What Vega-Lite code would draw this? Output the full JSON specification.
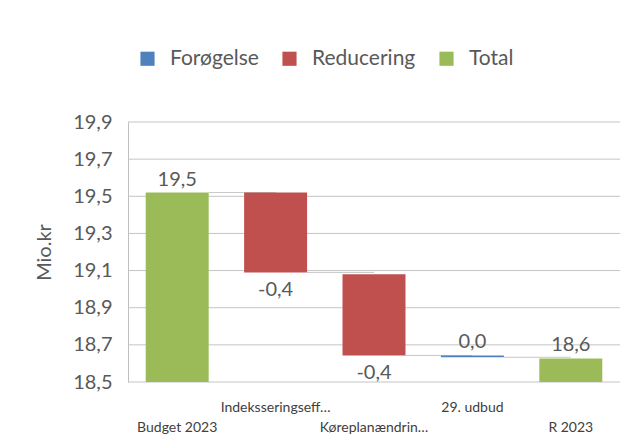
{
  "$schema": "https://vega.github.io/schema/vega-lite/v6.json",
  "width": 492,
  "height": 260,
  "autosize": {"type": "none"},
  "padding": {"left": 128, "top": 122, "right": 12, "bottom": 61},
  "background": "white",
  "config": {
    "font": "Lato",
    "view": {"stroke": null}
  },
  "datasets": {
    "gridValues": [
      {"g": 18.5}, {"g": 18.7}, {"g": 18.9}, {"g": 19.1},
      {"g": 19.3}, {"g": 19.5}, {"g": 19.7}, {"g": 19.9}
    ]
  },
  "data": {
    "values": [
      {"cat": "Budget 2023", "type": "Total", "start": 18.5, "end": 19.52, "value": 19.52},
      {"cat": "Indeksseringseff…", "type": "Reducering", "start": 19.52, "end": 19.09, "value": -0.43},
      {"cat": "Køreplanændrin…", "type": "Reducering", "start": 19.08, "end": 18.643, "value": -0.44},
      {"cat": "29. udbud", "type": "Forøgelse", "start": 18.643, "end": 18.633, "value": 0.0},
      {"cat": "R 2023", "type": "Total", "start": 18.5, "end": 18.627, "value": 18.63}
    ]
  },
  "resolve": {"axis": {"y": "independent", "x": "independent"}},
  "layer": [
    {
      "data": {"name": "gridValues"},
      "mark": {"type": "rule", "color": "#c4c4c4", "strokeWidth": 1},
      "encoding": {
        "y": {"field": "g", "type": "quantitative", "axis": null}
      }
    },
    {
      "transform": [
        {"window": [{"op": "lead", "field": "cat", "as": "nextCat"}]},
        {"filter": "datum.nextCat != null"}
      ],
      "mark": {"type": "rule", "color": "#c8c8c8", "strokeWidth": 1},
      "encoding": {
        "x": {"field": "cat", "type": "nominal", "sort": null, "bandPosition": 1, "axis": null},
        "x2": {"field": "nextCat"},
        "y": {"field": "end", "type": "quantitative", "axis": null}
      }
    },
    {
      "mark": {"type": "bar"},
      "encoding": {
        "x": {
          "field": "cat", "type": "nominal", "sort": null,
          "scale": {"paddingInner": 0.36, "paddingOuter": 0.18},
          "axis": {
            "title": null,
            "domain": false,
            "ticks": false,
            "grid": false,
            "labelAngle": 0,
            "labelAlign": "center",
            "labelFontSize": 14,
            "labelColor": "#404040",
            "labelPadding": 18,
            "labelBaseline": "top",
            "labelLineHeight": 20,
            "labelOverlap": false,
            "labelExpr": "indexof(['Indeksseringseff…', '29. udbud'], datum.label) >= 0 ? [datum.label] : ['', datum.label]"
          }
        },
        "y": {
          "field": "start", "type": "quantitative",
          "scale": {"domain": [18.5, 19.9], "zero": false, "nice": false},
          "axis": {
            "title": "Mio.kr",
            "titleFontSize": 20,
            "titleFontWeight": "normal",
            "titleColor": "#595959",
            "titlePadding": 18,
            "values": [18.5, 18.7, 18.9, 19.1, 19.3, 19.5, 19.7, 19.9],
            "labelExpr": "replace(format(datum.value, '.1f'), '.', ',')",
            "labelOverlap": false,
            "labelFontSize": 20,
            "labelColor": "#595959",
            "labelPadding": 16,
            "ticks": false,
            "grid": false,
            "domainColor": "#bfbfbf"
          }
        },
        "y2": {"field": "end"},
        "color": {
          "field": "type", "type": "nominal",
          "scale": {"domain": ["Forøgelse", "Reducering", "Total"], "range": ["#4f81bd", "#c0504d", "#9bbb59"]},
          "legend": {
            "title": null,
            "orient": "none",
            "direction": "horizontal",
            "legendX": 9,
            "legendY": -74,
            "symbolType": "square",
            "symbolSize": 200,
            "symbolStrokeWidth": 0,
            "labelFontSize": 21,
            "labelColor": "#595959",
            "labelOffset": 12,
            "columnPadding": 20
          }
        }
      }
    },
    {
      "transform": [
        {"filter": "datum.type != 'Reducering'"},
        {"calculate": "replace(replace(format(datum.value, '.1f'), '.', ','), '\u2212', '-')", "as": "lbl"},
        {"calculate": "max(datum.start, datum.end)", "as": "top"}
      ],
      "mark": {"type": "text", "fontSize": 20, "color": "#595959", "baseline": "alphabetic", "dy": -7},
      "encoding": {
        "x": {"field": "cat", "type": "nominal", "sort": null, "axis": null},
        "y": {"field": "top", "type": "quantitative", "axis": null},
        "text": {"field": "lbl"}
      }
    },
    {
      "transform": [
        {"filter": "datum.type == 'Reducering'"},
        {"calculate": "replace(replace(format(datum.value, '.1f'), '.', ','), '\u2212', '-')", "as": "lbl"}
      ],
      "mark": {"type": "text", "fontSize": 20, "color": "#595959", "baseline": "alphabetic", "dy": 24},
      "encoding": {
        "x": {"field": "cat", "type": "nominal", "sort": null, "axis": null},
        "y": {"field": "end", "type": "quantitative", "axis": null},
        "text": {"field": "lbl"}
      }
    }
  ]
}
